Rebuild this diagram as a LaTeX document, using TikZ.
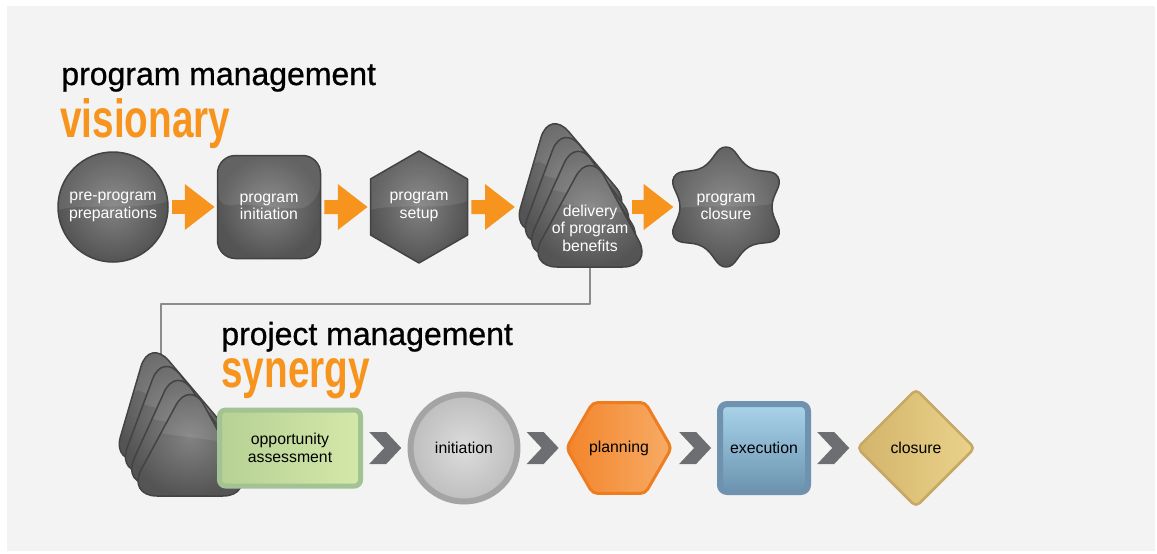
\documentclass[tikz,border=0pt]{standalone}
\usepackage{fontspec}
\setmainfont{Liberation Sans}
\newfontfamily\headfont{Liberation Sans}[FakeBold=0.8]
\usetikzlibrary{arrows.meta,shapes.geometric,calc}
\definecolor{bg}{HTML}{F3F3F3}
\definecolor{tang}{HTML}{F7941D}
\definecolor{darkedge}{HTML}{434343}
\definecolor{darkmid}{HTML}{828282}
\definecolor{darkrim}{HTML}{545454}
\definecolor{chevgray}{HTML}{6D6E71}
\definecolor{linkgray}{HTML}{8C8C8C}
\definecolor{oppedge}{HTML}{A3C394}
\definecolor{oppa}{HTML}{B6D194}
\definecolor{oppb}{HTML}{D4E8A9}
\definecolor{initedge}{HTML}{A4A4A4}
\definecolor{inita}{HTML}{DCDCDC}
\definecolor{initb}{HTML}{BEBEBE}
\definecolor{planedge}{HTML}{EE7D1F}
\definecolor{plana}{HTML}{F3852B}
\definecolor{planb}{HTML}{F7AB66}
\definecolor{execedge}{HTML}{6F92AE}
\definecolor{execa}{HTML}{A9D4EA}
\definecolor{execb}{HTML}{6B93B0}
\definecolor{closedge}{HTML}{C7A862}
\definecolor{closa}{HTML}{D3B46C}
\definecolor{closb}{HTML}{EAD28A}
\begin{document}
\begin{tikzpicture}[x=0.2mm,y=-0.2mm,line join=round,
    box/.style={font=\fontsize{9}{10}\selectfont,align=center,inner sep=0pt},
    gloss/.style={path picture={\fill[white,opacity=0.09] (path picture bounding box.north west) -- (path picture bounding box.north east) -- ($(path picture bounding box.east)+(0,1.2mm)$) .. controls +(-5mm,-2mm) and +(5mm,1.5mm) .. ($(path picture bounding box.west)+(0,-0.6mm)$) -- cycle;}},
    dark/.style={box,draw=darkedge,line width=0.3mm,inner color=darkmid,outer color=darkrim,text=white,gloss},
    tri/.style={dark,rounded corners=6mm},
    flow/.style={draw=tang,line width=2.8mm,-{Triangle[length=6mm,width=8.8mm]},shorten <=0.6mm,shorten >=0.4mm},
    chev/.style={fill=chevgray},
    link/.style={draw=linkgray,line width=0.35mm},
    head/.style={anchor=base west,inner sep=0pt,font=\headfont\fontsize{18.2}{20}\selectfont},
    tag/.style={anchor=base west,inner sep=0pt,text height=6mm,text depth=2mm,text=tang,font=\bfseries\fontsize{30.6}{32}\selectfont}]
  \useasboundingbox (0,0) rectangle (1157,553);
  \fill[bg] (7,6) rectangle (1155,551);
  % titles
  \node[head] (t1) at (61,85) {program management};
  \node[tag] (t1b) at (60,137) {\scalebox{0.72}[1]{visionary}};
  \node[head] (t2) at (221,345) {project management};
  \node[tag] (t2b) at (221,387) {\scalebox{0.72}[1]{synergy}};
  % link from the benefits stack down to the project stack
  \coordinate (deliv-foot) at (590,266);
  \coordinate (stack-top) at (161,362);
  \draw[link] (deliv-foot) -- ++(0,38) -| (stack-top);
  % two stacks of rounded triangles
  \foreach \dx/\dy in {0/0,-400/229}{
    \begin{scope}[shift={(\dx,\dy)}]
      \foreach \i in {3,2,1,0}
        \draw[tri,shift={(-8*\i,-14.3*\i)},rotate around={4*\i:(590,230)}] (590,150) -- (653,267) -- (527,267) -- cycle;
    \end{scope}}
  % program row
  \node[dark,circle,minimum size=22mm] (pre) at (113,207) {pre-program\\preparations};
  \node[dark,rounded corners=3.6mm,minimum size=20.6mm] (pinit) at (269,207) {program\\initiation};
  \node[dark,regular polygon,regular polygon sides=6,regular polygon rotate=30,minimum size=22.4mm] (setup) at (419,207) {program\\setup};
  \node[box,text=white] (deliv) at (590,228) {delivery\\of program\\benefits};
  \draw[dark,shift={(726,207)}] plot[smooth cycle,tension=0.8] coordinates {(90:60) (60:46) (30:60) (0:46) (-30:60) (-60:46) (-90:60) (-120:46) (-150:60) (180:46) (150:60) (120:46)};
  \node[box,text=white,circle,minimum size=20mm] (pclose) at (726,207) {program\\closure};
  \coordinate (deliv-in) at (517,207);
  \coordinate (deliv-out) at (629,207);
  \foreach \a/\b in {pre/pinit,pinit/setup,setup/deliv-in,deliv-out/pclose}
    \draw[flow] (\a) -- (\b);
  % project row
  \node[box,draw=oppedge,line width=1mm,rounded corners=1.2mm,left color=oppa,right color=oppb,minimum width=28.2mm,minimum height=15.2mm] (opp) at (290,448) {opportunity\\assessment};
  \node[box,circle,draw=initedge,line width=1.2mm,inner color=inita,outer color=initb,minimum size=21.4mm] (initn) at (464,448) {initiation};
  \node[box,regular polygon,regular polygon sides=6,draw=planedge,line width=0.6mm,rounded corners=1mm,left color=plana,right color=planb,minimum size=21mm] (plan) at (619,448) {planning};
  \node[box,draw=execedge,line width=1.2mm,rounded corners=1.4mm,top color=execa,bottom color=execb,minimum size=17.6mm] (exec) at (764,448) {execution};
  \node[box,diamond,draw=closedge,line width=0.5mm,rounded corners=1mm,left color=closa,right color=closb,minimum size=23.7mm] (clos) at (916,448) {closure};
  \foreach \a/\b in {opp/initn,initn/plan,plan/exec,exec/clos}
    \fill[chev] ($(\a.east)!0.5!(\b.west)$) ++(-16,-16) -- ++(17,0) -- ++(15,16) -- ++(-15,16) -- ++(-17,0) -- ++(15,-16) -- cycle;
\end{tikzpicture}
\end{document}
